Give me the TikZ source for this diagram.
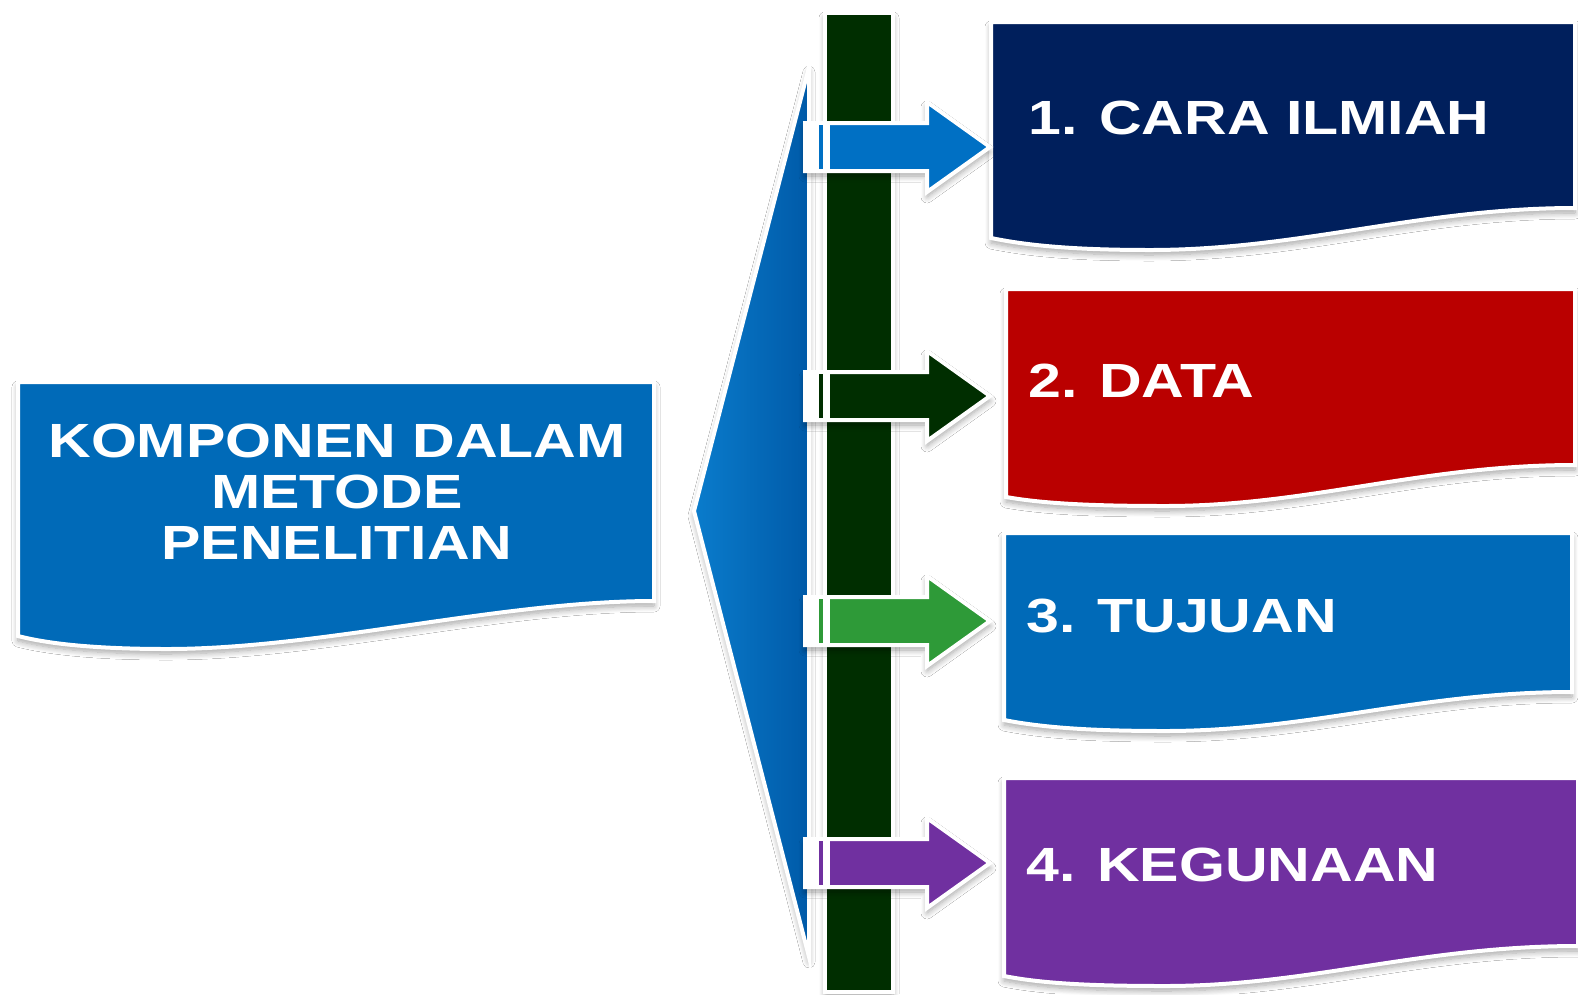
\documentclass[tikz,border=0pt]{standalone}
\usepackage{fontspec}
\newfontfamily\boxfont{Liberation Sans}[FakeStretch=1.23]
\usetikzlibrary{shadows.blur}
\definecolor{navy}{HTML}{001F5C}
\definecolor{dred}{HTML}{BA0000}
\definecolor{mblue}{HTML}{006AB8}
\definecolor{purp}{HTML}{7030A0}
\definecolor{dgreen}{HTML}{002E00}
\definecolor{agreen}{HTML}{2E9A38}
\definecolor{ablue}{HTML}{0070C4}
\definecolor{tria}{HTML}{0A7CCC}
\definecolor{trib}{HTML}{005AA8}
\tikzset{
  shad/.style={blur shadow={shadow blur steps=8, shadow xshift=0pt, shadow yshift=-5pt, shadow blur radius=6pt, shadow opacity=35}},
  shapebox/.style={draw=white, line width=4pt, line join=miter, shad},
  lbl/.style={text=white, font=\boxfont\bfseries\fontsize{48}{51}\selectfont, inner sep=0pt},
  pics/barrow/.style={code={
    \path[fill=#1, draw=white, line width=4pt, line join=miter, shad]
      (805,-24) -- (927,-24) -- (927,-45) -- (990,0) -- (927,45) -- (927,24) -- (805,24) -- cycle;
    \fill[white] (805,-22) rectangle (819,22);
    \fill[#1] (819,-22) rectangle (823,22);
    \fill[white] (823,-22) rectangle (830,22);
  }}
}
\begin{document}
\begin{tikzpicture}[x=1pt,y=-1pt]
\useasboundingbox (0,0) rectangle (1578,994);
\fill[white] (0,0) rectangle (1578,994);
% left box
\path[shapebox, fill=mblue] (18,382) -- (654,382) -- (654,601)
  .. controls (500,601) and (320,649) .. (167,649)
  .. controls (90,649) and (45,643) .. (18,636) -- cycle;
\node[lbl, align=center] (t0) at (337,492) {KOMPONEN DALAM\\METODE\\PENELITIAN};
% triangle
\path[shapebox, left color=tria, right color=trib] (809,67) -- (694,511) -- (809,957) -- cycle;
% green bar
\path[shapebox, fill=dgreen] (825,13) rectangle (893,992);
% right boxes
\path[shapebox, fill=navy] (991,22) -- (1575,22) -- (1575,208)
  .. controls (1420,208) and (1300,250) .. (1150,250)
  .. controls (1070,250) and (1025,245) .. (991,238) -- cycle;
\path[shapebox, fill=dred] (1006,289) -- (1575,289) -- (1575,465)
  .. controls (1420,465) and (1310,506) .. (1165,506)
  .. controls (1085,506) and (1040,503) .. (1006,497) -- cycle;
\path[shapebox, fill=mblue] (1004,533) -- (1572,533) -- (1572,692)
  .. controls (1420,692) and (1310,731) .. (1165,731)
  .. controls (1085,731) and (1040,727) .. (1004,720) -- cycle;
\path[shapebox, fill=purp] (1004,778) -- (1578,778) -- (1578,946)
  .. controls (1420,946) and (1310,986) .. (1165,986)
  .. controls (1085,986) and (1040,983) .. (1004,976) -- cycle;
% arrows
\pic at (0,147) {barrow=ablue};
\pic at (0,396) {barrow=dgreen};
\pic at (0,621) {barrow=agreen};
\pic at (0,863) {barrow=purp};
% labels
\node[lbl, anchor=base west] (t1) at (1028,134) {1. CARA ILMIAH};
\node[lbl, anchor=base west] (t2) at (1028,397) {2. DATA};
\node[lbl, anchor=base west] (t3) at (1026,632) {3. TUJUAN};
\node[lbl, anchor=base west] (t4) at (1026,881) {4. KEGUNAAN};
\end{tikzpicture}
\end{document}
